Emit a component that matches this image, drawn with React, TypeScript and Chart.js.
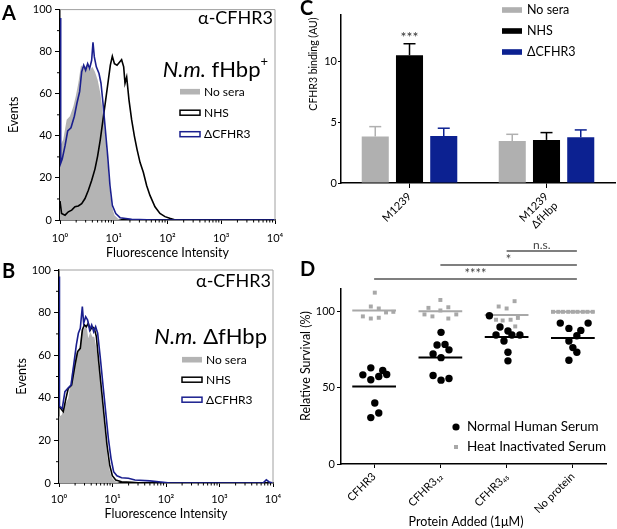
import React, { useEffect, useRef } from 'react';
import { Chart, registerables } from 'chart.js';

Chart.register(...registerables);

const FONT = 'Lato, "Noto Sans", "DejaVu Sans", sans-serif';
Chart.defaults.font.family = FONT;
Chart.defaults.color = '#000';

// ---------------- Panel A / B: flow cytometry histograms [fluorescence, events] ----------------
const histSeries = ['No sera', 'NHS', 'ΔCFHR3'];
const xDecades = [1, 10, 100, 1000, 10000];
const SUP = ['⁰', '¹', '²', '³', '⁴'];

const aNoSera = [[1.0, 35.2], [1.15, 38.3], [1.33, 47.7], [1.53, 49.3], [1.77, 54], [1.96, 58.7], [2.19, 65], [2.46, 73.6], [2.72, 72], [3.13, 73.6], [3.61, 71.2], [4.0, 72.8], [4.48, 70.4], [5.02, 66.5], [5.63, 60.3], [6.4, 49.3], [7.08, 38.3], [7.71, 27.4], [8.28, 16.4], [9.15, 7], [10.3, 2.3], [12.2, 0.5], [14, 0]];
const aNHS = [[1.0, 9], [1.07, 3.1], [1.24, 2.3], [1.43, 3.9], [1.65, 4.7], [1.9, 6.3], [2.19, 6.7], [2.53, 7.8], [2.92, 10.2], [3.37, 14.1], [3.88, 18.8], [4.48, 24.3], [5.02, 30.5], [5.63, 38.3], [6.31, 47.7], [7.08, 57.1], [7.93, 66.5], [8.64, 73.6], [9.41, 77.8], [10.3, 74.3], [11.5, 73.6], [12.9, 75.1], [14.0, 76.2], [15.3, 72.8], [16.2, 65], [17.4, 68], [19.2, 57.1], [21.5, 47.7], [24.2, 39.9], [27.1, 33.6], [30.8, 27.4], [35.5, 22.7], [40.9, 16.4], [47.2, 11.7], [58.5, 6.3], [72.4, 3.1], [89.8, 1.6], [110, 0.8], [140, 0]];
const aDelta = [[1.0, 96], [1.03, 27], [1.1, 29], [1.24, 35.2], [1.39, 42.3], [1.6, 43.8], [1.85, 49.3], [2.07, 55.6], [2.32, 61], [2.53, 70.4], [2.76, 73.6], [3.0, 71.2], [3.27, 74.3], [3.56, 72], [3.88, 75.9], [4.11, 84.5], [4.35, 77.5], [4.74, 72.8], [5.32, 69.6], [5.79, 65], [6.31, 55.6], [6.88, 44.6], [7.71, 30.5], [8.51, 16.4], [9.41, 7], [10.9, 3.1], [13.1, 1.1], [21.5, 0.3], [58, 0], [10000, 0]];

const bNoSera = [[1.0, 31.1], [1.12, 31.9], [1.29, 36.6], [1.49, 39.7], [1.72, 50.7], [1.94, 58.5], [2.17, 61.7], [2.43, 63.2], [2.65, 71], [2.98, 72.6], [3.24, 74.2], [3.53, 67.9], [3.85, 71], [4.2, 68.7], [4.57, 68.7], [5.13, 61.7], [5.75, 50.7], [6.46, 36.6], [7.24, 24.1], [8.13, 11.6], [8.98, 5.3], [9.93, 2.2], [11.1, 0.9], [13.8, 0]];
const bNHS = [[1.0, 36], [1.2, 33.5], [1.35, 39.7], [1.49, 44.4], [1.72, 46], [1.99, 55.4], [2.23, 61.7], [2.5, 63.2], [2.73, 71.8], [2.98, 74.2], [3.24, 73.4], [3.53, 75], [3.85, 71.8], [4.2, 73.4], [4.57, 72.6], [4.99, 68.7], [5.6, 55.4], [6.28, 42.9], [7.03, 30.4], [7.89, 17.8], [8.85, 8.5], [9.93, 3.4], [11.5, 1.4], [14.8, 0.6], [22.8, 0.3], [35, 0]];
const bDelta = [[1.0, 97], [1.02, 36], [1.15, 35], [1.29, 42.9], [1.45, 44.4], [1.68, 46], [1.88, 55.4], [2.11, 64.8], [2.3, 70.3], [2.5, 72.6], [2.73, 82.8], [2.89, 75], [3.15, 78.1], [3.43, 76.5], [3.74, 71.8], [4.08, 74.2], [4.45, 71], [4.84, 73.4], [5.28, 70.3], [5.93, 58.5], [6.64, 46], [7.45, 33.5], [8.36, 21], [9.38, 11.6], [10.5, 5.3], [12.1, 3.4], [14.8, 2.5], [19.8, 2.2], [26.3, 1.4], [50, 1.0], [80, 0.5], [120, 0], [6500, 0], [7500, 1.5], [8500, 0.5], [10000, 0]];

// ---------------- Panel C: CFHR3 binding (AU) ----------------
const catsC = ['M1239', ['M1239', 'ΔfHbp']];
const cNoSera = [3.81, 3.46];
const cNoSeraErr = [0.82, 0.54];
const cNHS = [10.49, 3.54];
const cNHSErr = [0.95, 0.6];
const cDelta = [3.87, 3.76];
const cDeltaErr = [0.63, 0.6];
const cYTicks = [0, 5, 10];

// ---------------- Panel D: relative survival (%) ----------------
const catsD = ['CFHR3', 'CFHR3₁₂', 'CFHR3₄₅', 'No protein'];
const nhsValues = [
  [58.6, 63.2, 55.4, 57.5, 61.4, 58.8, 40.1, 33.5, 30.5],
  [86.5, 78.2, 78.6, 75.0, 72.3, 69.9, 58.2, 55.1, 56.2],
  [97.4, 90.0, 87.4, 84.8, 84.8, 84.8, 80.8, 73.4, 67.8],
  [92.6, 92.6, 89.1, 87.8, 84.3, 80.8, 76.5, 73.4, 68.2],
];
const nhsJitter = [
  [-0.17, -0.05, -0.05, 0.07, 0.13, 0.19, 0.01, 0.07, -0.05],
  [0.01, -0.05, 0.07, 0.13, -0.11, 0.01, -0.11, 0.01, 0.13],
  [-0.26, -0.1, 0.02, -0.16, 0.08, 0.2, -0.04, 0.02, 0.02],
  [-0.19, 0.23, -0.06, 0.12, 0.06, -0.06, 0.0, 0.06, -0.06],
];
const hisValues = [
  [112.6, 103.5, 102.2, 99.6, 100.0, 97.0, 95.6, 96.1],
  [107.8, 102.6, 103.0, 100.9, 98.3, 97.0, 95.6, 98.3],
  [107.0, 103.5, 102.2, 96.0, 94.8, 94.3, 94.8, 90.4],
  [100, 100, 100, 100, 100, 100, 100, 100, 100],
];
const hisJitter = [
  [0.01, -0.05, 0.07, 0.18, 0.29, -0.17, -0.05, 0.07],
  [0.0, -0.18, 0.12, 0.0, -0.24, -0.12, 0.12, 0.24],
  [0.12, -0.12, 0.0, 0.17, -0.16, -0.06, 0.06, 0.13],
  [-0.3, -0.22, -0.15, -0.07, 0.0, 0.07, 0.15, 0.22, 0.3],
];
const dYTicks = [0, 50, 100];
const sigLabels = ['****', '*', 'n.s.'];
const sigFrom = [0, 1, 2];

// ---------------- colours ----------------
const GREY_FILL = '#b4b4b4';
const HIST_BLUE = '#1a1f8e';
const BAR_GREY = '#b0b0b0';
const BAR_BLUE = '#0c2191';
const HIS_GREY = '#a8a8a8';

// ---------------- helpers ----------------
function txt(ctx: any, s: string, x: number, y: number, font: string, o: any = {}) {
  ctx.save();
  ctx.font = font;
  ctx.fillStyle = o.color || '#000';
  ctx.textAlign = o.align || 'left';
  ctx.textBaseline = o.baseline || 'middle';
  ctx.translate(x, y);
  if (o.rot) ctx.rotate(o.rot);
  ctx.fillText(s, 0, 0);
  ctx.restore();
}
function rich(ctx: any, segs: any[], xRight: number, y: number) {
  ctx.save();
  ctx.textBaseline = 'middle';
  ctx.textAlign = 'left';
  ctx.fillStyle = '#000';
  const ws = segs.map((s) => { ctx.font = s.font; return ctx.measureText(s.t).width; });
  let x = xRight - ws.reduce((a, b) => a + b, 0);
  segs.forEach((s, i) => { ctx.font = s.font; ctx.fillText(s.t, x, y + (s.dy || 0)); x += ws[i]; });
  ctx.restore();
}
function line(ctx: any, x1: number, y1: number, x2: number, y2: number, color: string, lw: number) {
  ctx.save();
  ctx.strokeStyle = color;
  ctx.lineWidth = lw;
  ctx.beginPath();
  ctx.moveTo(x1, y1);
  ctx.lineTo(x2, y2);
  ctx.stroke();
  ctx.restore();
}
const toXY = (arr: number[][]) => arr.map(([x, y]) => ({ x, y }));

function histLegend(ctx: any, x: number, ys: number[], tx: number) {
  const styles = [
    { fill: GREY_FILL },
    { stroke: '#000' },
    { stroke: HIST_BLUE },
  ];
  histSeries.forEach((name, i) => {
    const st: any = styles[i];
    ctx.save();
    if (st.fill) { ctx.fillStyle = st.fill; ctx.fillRect(x, ys[i] - 2.8, 20, 5.6); }
    else { ctx.strokeStyle = st.stroke; ctx.lineWidth = 1.5; ctx.strokeRect(x, ys[i] - 2.5, 20, 5); }
    ctx.restore();
    txt(ctx, name, tx, ys[i], '12px ' + FONT);
  });
}

function histConfig(p: any) {
  return {
    type: 'line',
    data: {
      datasets: [
        { label: histSeries[2], data: toXY(p.delta), borderColor: HIST_BLUE, borderWidth: 1.6, pointRadius: 0, fill: false, order: 1 },
        { label: histSeries[1], data: toXY(p.nhs), borderColor: '#000', borderWidth: 1.6, pointRadius: 0, fill: false, order: 2 },
        { label: histSeries[0], data: toXY(p.noSera), borderColor: 'rgba(0,0,0,0)', borderWidth: 0, backgroundColor: GREY_FILL, fill: 'origin', pointRadius: 0, order: 3 },
      ],
    },
    options: {
      animation: false,
      responsive: false,
      events: [],
      layout: { padding: { left: 0, right: p.padRight, top: p.padTop, bottom: 0 } },
      scales: {
        x: {
          type: 'logarithmic', min: 1, max: 10000,
          afterBuildTicks: (s: any) => { s.ticks = xDecades.map((v) => ({ value: v, major: true })); },
          afterFit: (s: any) => { s.height = p.xHeight; },
          ticks: { callback: (v: number) => '10' + SUP[Math.round(Math.log10(v))], font: { size: 11 }, padding: p.tickPad, maxRotation: 0, autoSkip: false },
          grid: { display: true, drawOnChartArea: false, drawTicks: true, tickLength: 4, color: '#000' },
          border: { display: true, color: '#000', width: 1.5 },
          title: { display: true, text: 'Fluorescence Intensity', font: { size: 12.5 }, padding: { top: 0, bottom: p.xTitlePad } },
        },
        y: {
          type: 'linear', min: 0, max: 100,
          afterFit: (s: any) => { s.width = p.yWidth; },
          ticks: { stepSize: 20, font: { size: 11 }, padding: 3 },
          grid: { display: true, drawOnChartArea: false, drawTicks: true, tickLength: 5, color: '#000' },
          border: { display: true, color: '#000', width: 1.5 },
          title: { display: true, text: 'Events', font: { size: 12.5 }, padding: { top: p.yTitlePad, bottom: 0 } },
        },
      },
      plugins: { legend: { display: false }, tooltip: { enabled: false } },
    },
    plugins: [{
      id: 'histAnnot',
      afterDraw: (chart: any) => {
        const ctx = chart.ctx;
        const { left, right, top, bottom } = chart.chartArea;
        const xs = chart.scales.x;
        const ys = chart.scales.y;
        line(ctx, left, top, right, top, '#a0a0a0', 1);
        line(ctx, right, top, right, bottom, '#a0a0a0', 1);
        for (let d = 1; d < 10000; d *= 10) {
          for (let k = 2; k < 10; k++) {
            const px = xs.getPixelForValue(k * d);
            line(ctx, px, bottom, px, bottom + 2.5, '#000', 1);
          }
        }
        for (let v = 10; v < 100; v += 20) {
          const py = ys.getPixelForValue(v);
          line(ctx, left - 3, py, left, py, '#000', 1);
        }
        p.annot(ctx);
      },
    }],
  };
}

function barConfig() {
  const errs = [cNoSeraErr, cNHSErr, cDeltaErr];
  const common = { barPercentage: 0.79, categoryPercentage: 0.75 };
  return {
    type: 'bar',
    data: {
      labels: catsC,
      datasets: [
        { label: 'No sera', data: cNoSera, backgroundColor: BAR_GREY, ...common },
        { label: 'NHS', data: cNHS, backgroundColor: '#000', ...common },
        { label: 'ΔCFHR3', data: cDelta, backgroundColor: BAR_BLUE, ...common },
      ],
    },
    options: {
      animation: false,
      responsive: false,
      events: [],
      layout: { padding: { left: 0, right: 2, top: 15, bottom: 0 } },
      scales: {
        x: {
          type: 'category',
          afterFit: (s: any) => { s.height = 57; },
          ticks: { font: { size: 11 }, padding: 2, minRotation: 45, maxRotation: 45, autoSkip: false },
          grid: { display: true, offset: false, drawOnChartArea: false, drawTicks: true, tickLength: 5, color: '#000' },
          border: { display: true, color: '#000', width: 1.5 },
        },
        y: {
          type: 'linear', min: 0, max: 13.8,
          afterFit: (s: any) => { s.width = 41; },
          afterBuildTicks: (s: any) => { s.ticks = cYTicks.map((v) => ({ value: v })); },
          ticks: { font: { size: 11 }, padding: 1 },
          grid: { display: true, drawOnChartArea: false, drawTicks: true, tickLength: 3, color: '#000' },
          border: { display: true, color: '#000', width: 1.5 },
        },
      },
      plugins: { legend: { display: false }, tooltip: { enabled: false } },
    },
    plugins: [{
      id: 'barAnnot',
      afterDatasetsDraw: (chart: any) => {
        const ctx = chart.ctx;
        const ys = chart.scales.y;
        chart.data.datasets.forEach((ds: any, i: number) => {
          const meta = chart.getDatasetMeta(i);
          meta.data.forEach((bar: any, j: number) => {
            const yTop = ys.getPixelForValue(ds.data[j] + errs[i][j]);
            line(ctx, bar.x, bar.y, bar.x, yTop, ds.backgroundColor, 1.5);
            line(ctx, bar.x - 6, yTop, bar.x + 6, yTop, ds.backgroundColor, 1.5);
          });
        });
        // significance over NHS M1239
        const nb = chart.getDatasetMeta(1).data[0];
        const errTop = ys.getPixelForValue(cNHS[0] + cNHSErr[0]);
        txt(ctx, '***', nb.x, errTop - 2, '14px ' + FONT, { align: 'center', baseline: 'alphabetic', color: '#333' });
      },
      afterDraw: (chart: any) => {
        const ctx = chart.ctx;
        txt(ctx, 'C', 0, 9, 'bold 20px ' + FONT);
        txt(ctx, 'CFHR3 binding (AU)', 14, 64, '10.5px ' + FONT, { align: 'center', rot: -Math.PI / 2 });
        const sw = [BAR_GREY, '#000', BAR_BLUE];
        const ly = [10, 31, 52];
        chart.data.datasets.forEach((ds: any, i: number) => {
          ctx.save();
          ctx.fillStyle = sw[i];
          ctx.fillRect(202, ly[i] - 2.8, 20, 5.6);
          ctx.restore();
          txt(ctx, ds.label, 227, ly[i], '12.5px ' + FONT);
        });
      },
    }],
  };
}

function meanLine(vals: number[][]) {
  const out: any[] = [];
  vals.forEach((arr, i) => {
    const m = arr.reduce((a, b) => a + b, 0) / arr.length;
    out.push({ x: i - 0.33, y: m }, { x: i + 0.33, y: m }, { x: i + 0.5, y: null });
  });
  return out;
}
function pts(vals: number[][], jit: number[][]) {
  const out: any[] = [];
  vals.forEach((arr, i) => arr.forEach((v, j) => out.push({ x: i + jit[i][j], y: v })));
  return out;
}

function scatterConfig() {
  return {
    type: 'scatter',
    data: {
      datasets: [
        { type: 'line', label: 'NHS mean', data: meanLine(nhsValues), borderColor: '#000', borderWidth: 2, pointRadius: 0, spanGaps: false, fill: false, order: 1 },
        { label: 'Normal Human Serum', data: pts(nhsValues, nhsJitter), pointStyle: 'circle', pointRadius: 3.7, backgroundColor: '#000', borderWidth: 0, order: 2 },
        { type: 'line', label: 'HIS mean', data: meanLine(hisValues), borderColor: HIS_GREY, borderWidth: 2, pointRadius: 0, spanGaps: false, fill: false, order: 3 },
        { label: 'Heat Inactivated Serum', data: pts(hisValues, hisJitter), pointStyle: 'rect', pointRadius: 2.8, backgroundColor: HIS_GREY, borderWidth: 0, order: 4 },
      ],
    },
    options: {
      animation: false,
      responsive: false,
      events: [],
      layout: { padding: { left: 0, right: 11, top: 49, bottom: 0 } },
      scales: {
        x: {
          type: 'linear', min: -0.5, max: 3.5,
          afterBuildTicks: (s: any) => { s.ticks = catsD.map((_, i) => ({ value: i })); },
          afterFit: (s: any) => { s.height = 65; },
          ticks: { callback: (v: number) => catsD[Math.round(v)], font: { size: 11 }, padding: 2, minRotation: 45, maxRotation: 45, autoSkip: false },
          grid: { display: true, drawOnChartArea: false, drawTicks: true, tickLength: 4, color: '#000' },
          border: { display: true, color: '#000', width: 1.5 },
        },
        y: {
          type: 'linear', min: 0, max: 115,
          afterFit: (s: any) => { s.width = 41; },
          afterBuildTicks: (s: any) => { s.ticks = dYTicks.map((v) => ({ value: v })); },
          ticks: { font: { size: 11 }, padding: 2 },
          grid: { display: true, drawOnChartArea: false, drawTicks: true, tickLength: 4, color: '#000' },
          border: { display: true, color: '#000', width: 1.5 },
        },
      },
      plugins: { legend: { display: false }, tooltip: { enabled: false } },
    },
    plugins: [{
      id: 'scatAnnot',
      afterDraw: (chart: any) => {
        const ctx = chart.ctx;
        const xs = chart.scales.x;
        txt(ctx, 'D', 0, 30, 'bold 20px ' + FONT);
        txt(ctx, 'Relative Survival (%)', 6, 126, '12.5px ' + FONT, { align: 'center', rot: -Math.PI / 2 });
        txt(ctx, 'Protein Added (1μM)', 166, 282, '12.5px ' + FONT, { align: 'center' });
        // significance bars
        const ly = [39, 25, 11];
        sigLabels.forEach((lab, k) => {
          const x1 = xs.getPixelForValue(sigFrom[k]);
          const x2 = xs.getPixelForValue(catsD.length - 1) + 4;
          line(ctx, x1, ly[k], x2, ly[k], '#555', 1.3);
          const isStar = lab.indexOf('*') >= 0;
          txt(ctx, lab, (x1 + x2) / 2, ly[k] - (isStar ? 1 : 6), (isStar ? '13px ' : '12px ') + FONT, { align: 'center', baseline: isStar ? 'alphabetic' : 'middle', color: '#444' });
        });
        // legend
        ctx.save();
        ctx.fillStyle = '#000';
        ctx.beginPath();
        ctx.arc(156, 187, 3.6, 0, Math.PI * 2);
        ctx.fill();
        ctx.fillStyle = HIS_GREY;
        ctx.fillRect(154, 205, 4, 4);
        ctx.restore();
        txt(ctx, chart.data.datasets[1].label, 167, 187, '13.5px ' + FONT);
        txt(ctx, chart.data.datasets[3].label, 167, 207, '13.5px ' + FONT);
      },
    }],
  };
}

export default function App() {
  const refA = useRef<HTMLCanvasElement>(null);
  const refB = useRef<HTMLCanvasElement>(null);
  const refC = useRef<HTMLCanvasElement>(null);
  const refD = useRef<HTMLCanvasElement>(null);

  useEffect(() => {
    const charts: Chart[] = [];
    charts.push(new Chart(refA.current as any, histConfig({
      noSera: aNoSera, nhs: aNHS, delta: aDelta,
      padRight: 25, padTop: 7, yWidth: 60, xHeight: 40, tickPad: 8, xTitlePad: 0, yTitlePad: 6,
      annot: (ctx: any) => {
        txt(ctx, 'A', 2, 14, 'bold 20px ' + FONT);
        txt(ctx, 'α-CFHR3', 273, 18, '18px ' + FONT, { align: 'right' });
        rich(ctx, [
          { t: 'N.m.', font: 'italic 22px ' + FONT },
          { t: ' fHbp', font: '22px ' + FONT },
          { t: '+', font: '13px ' + FONT, dy: -8 },
        ], 268, 70);
        histLegend(ctx, 180, [91.7, 112.7, 134.2], 204);
      },
    }) as any));
    charts.push(new Chart(refB.current as any, histConfig({
      noSera: bNoSera, nhs: bNHS, delta: bDelta,
      padRight: 27, padTop: 10, yWidth: 59, xHeight: 46, tickPad: 6, xTitlePad: 8, yTitlePad: 14,
      annot: (ctx: any) => {
        txt(ctx, 'B', 2, 12, 'bold 20px ' + FONT);
        txt(ctx, 'α-CFHR3', 271, 21, '18px ' + FONT, { align: 'right' });
        rich(ctx, [
          { t: 'N.m.', font: 'italic 22px ' + FONT },
          { t: ' ΔfHbp', font: '22px ' + FONT },
        ], 267, 77);
        histLegend(ctx, 182, [99.7, 119.7, 139.7], 206);
      },
    }) as any));
    charts.push(new Chart(refC.current as any, barConfig() as any));
    charts.push(new Chart(refD.current as any, scatterConfig() as any));
    return () => charts.forEach((c) => c.destroy());
  }, []);

  const cs = (l: number, t: number): React.CSSProperties => ({ position: 'absolute', left: l, top: t, display: 'block' });
  return (
    <div style={{ position: 'fixed', left: 0, top: 0, width: 617, height: 529, background: '#fff', overflow: 'hidden' }}>
      <canvas ref={refA} width={300} height={260} style={cs(0, 0)} />
      <canvas ref={refB} width={300} height={269} style={cs(0, 260)} />
      <canvas ref={refC} width={317} height={240} style={cs(300, 0)} />
      <canvas ref={refD} width={317} height={289} style={cs(300, 240)} />
    </div>
  );
}
